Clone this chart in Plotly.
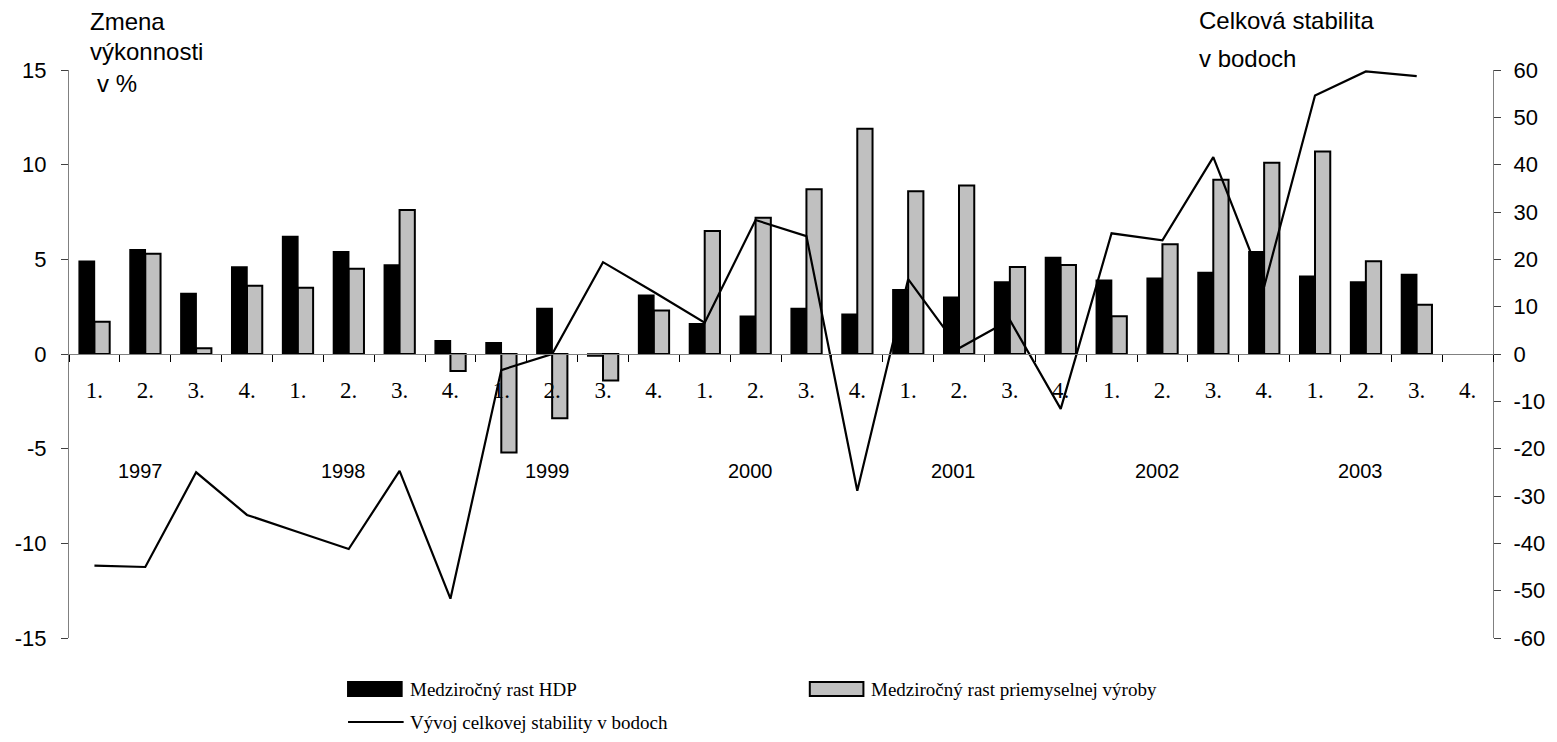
import plotly.graph_objects as go

# quarterly data 1997 - 2003
quarters = ["1.", "2.", "3.", "4."] * 7
years = ["1997", "1998", "1999", "2000", "2001", "2002", "2003"]

hdp_growth = [4.9, 5.5, 3.2, 4.6, 6.2, 5.4, 4.7, 0.7,
              0.6, 2.4, -0.1, 3.1, 1.6, 2.0, 2.4, 2.1,
              3.4, 3.0, 3.8, 5.1, 3.9, 4.0, 4.3, 5.4,
              4.1, 3.8, 4.2, None]
industry_growth = [1.7, 5.3, 0.3, 3.6, 3.5, 4.5, 7.6, -0.9,
                   -5.2, -3.4, -1.4, 2.3, 6.5, 7.2, 8.7, 11.9,
                   8.6, 8.9, 4.6, 4.7, 2.0, 5.8, 9.2, 10.1,
                   10.7, 4.9, 2.6, None]
stability = [-44.7, -45.0, -25.0, -34.0, -37.6, -41.2, -24.7, -51.7,
             -3.4, 0.0, 19.4, 13.1, 6.6, 28.3, 24.9, -28.9,
             15.8, 1.2, 7.2, -11.6, 25.5, 24.0, 41.6, 14.2,
             54.6, 59.7, 58.7, None]

left_ticks = [-15, -10, -5, 0, 5, 10, 15]
right_ticks = [-60, -50, -40, -30, -20, -10, 0, 10, 20, 30, 40, 50, 60]

SANS = "Liberation Sans, Arial, sans-serif"
SERIF = "Liberation Serif, Times New Roman, serif"
AXIS_GREY = "#808080"

W, H = 1557, 742
L, R, T, B = 69, 54, 70, 104
PLOT_W, PLOT_H = W - L - R, H - T - B


def px_x(p):
    return (p - L) / PLOT_W


def px_y(p):
    return (H - B - p) / PLOT_H


idx = list(range(len(quarters)))

fig = go.Figure()
fig.add_trace(go.Bar(
    x=idx, y=hdp_growth, name="Medziročný rast HDP",
    marker=dict(color="#000000", line=dict(color="#000000", width=1.5)),
))
fig.add_trace(go.Bar(
    x=idx, y=industry_growth, name="Medziročný rast priemyselnej výroby",
    marker=dict(color="#c0c0c0", line=dict(color="#000000", width=2)),
))
fig.add_trace(go.Scatter(
    x=idx, y=stability, yaxis="y2", mode="lines",
    name="Vývoj celkovej stability v bodoch",
    line=dict(color="#000000", width=2.2),
))

fig.update_layout(
    width=W, height=H,
    paper_bgcolor="white", plot_bgcolor="white",
    margin=dict(l=L, r=R, t=T, b=B),
    barmode="group", bargap=0.4, bargroupgap=0,
    showlegend=False,
    font=dict(family=SANS, color="#000000", size=20),
    xaxis=dict(
        range=[-0.5, len(quarters) - 0.5],
        anchor="free", position=0.5,
        tickmode="array", tickvals=idx, ticktext=quarters,
        ticks="", showgrid=False, zeroline=False,
        showline=True, linecolor=AXIS_GREY, linewidth=1,
        tickfont=dict(family=SERIF, size=23, color="#000000"),
        ticklabelstandoff=15,
        minor=dict(ticks="outside", tick0=-0.5, dtick=1, ticklen=7,
                   tickcolor="#000000", tickwidth=1, showgrid=False),
    ),
    yaxis=dict(
        range=[-15, 15], tickmode="array", tickvals=left_ticks,
        ticktext=[str(v) for v in left_ticks],
        ticks="outside", ticklen=7, tickcolor="#404040",
        showgrid=False, zeroline=False,
        showline=True, linecolor=AXIS_GREY, linewidth=1,
        tickfont=dict(family=SANS, size=22, color="#000000"),
        ticklabelstandoff=10,
    ),
    yaxis2=dict(
        range=[-60, 60], overlaying="y", side="right",
        tickmode="array", tickvals=right_ticks,
        ticktext=[str(v) for v in right_ticks],
        ticks="outside", ticklen=7, tickcolor="#404040",
        showgrid=False, zeroline=False,
        showline=True, linecolor=AXIS_GREY, linewidth=1,
        tickfont=dict(family=SANS, size=22, color="#000000"),
        ticklabelstandoff=8,
    ),
    yaxis3=dict(
        range=[-60, 60], overlaying="y", side="right",
        tickmode="array", tickvals=right_ticks,
        ticks="inside", ticklen=7, tickcolor="#404040",
        showticklabels=False, showgrid=False, zeroline=False, showline=False,
    ),
)

# year labels under the quarters
for k, yr in enumerate(years):
    fig.add_annotation(x=4 * k + 0.9, y=-6.2, xref="x", yref="y", text=yr,
                       showarrow=False, font=dict(family=SANS, size=20))

# axis titles
for text, xp, yp in [("Zmena", 88, 21), ("výkonnosti", 88, 52), ("v %", 95, 83),
                     ("Celková stabilita", 1205, 20), ("v bodoch", 1205, 58)]:
    fig.add_annotation(x=px_x(xp), y=px_y(yp), xref="paper", yref="paper",
                       text=text, showarrow=False, xanchor="left", yanchor="middle",
                       font=dict(family=SANS, size=24))

# legend drawn below the plot
legend_items = [
    ("rect", "#000000", 350, 689, "Medziročný rast HDP"),
    ("rect", "#c0c0c0", 815, 689, "Medziročný rast priemyselnej výroby"),
    ("line", "#000000", 350, 722, "Vývoj celkovej stability v bodoch"),
]
for kind, color, x0, yc, text in legend_items:
    if kind == "rect":
        fig.add_shape(type="rect", xref="paper", yref="paper",
                      x0=px_x(x0), x1=px_x(x0 + 54), y0=px_y(yc - 7), y1=px_y(yc + 7),
                      fillcolor=color, line=dict(color="#000000", width=2))
    else:
        fig.add_shape(type="line", xref="paper", yref="paper",
                      x0=px_x(x0), x1=px_x(x0 + 56), y0=px_y(yc), y1=px_y(yc),
                      line=dict(color=color, width=2))
    fig.add_annotation(x=px_x(x0 + 60), y=px_y(yc), xref="paper", yref="paper",
                       text=text, showarrow=False, xanchor="left", yanchor="middle",
                       font=dict(family=SERIF, size=19))

fig.write_html("out.html", config={"displayModeBar": False},
               post_script="document.body.style.margin='0';")
